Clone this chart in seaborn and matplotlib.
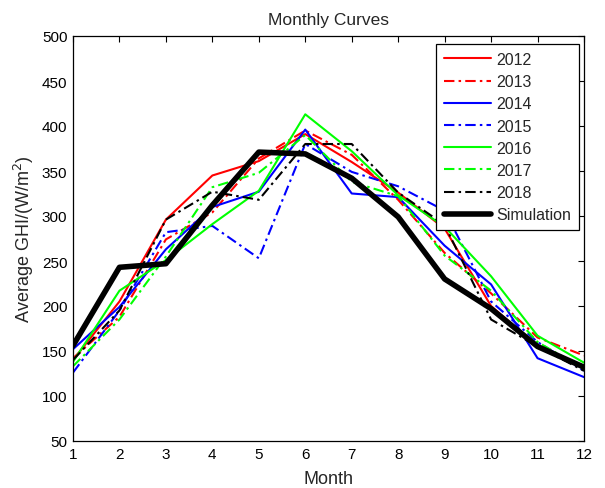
import matplotlib
matplotlib.use("Agg")
import matplotlib.pyplot as plt
import seaborn as sns
import pandas as pd

months = list(range(1, 13))

ghi_2012 = [140, 205, 296, 345, 361, 391, 360, 326, 286, 200, 155, 132]
ghi_2013 = [142, 188, 274, 304, 364, 395, 368, 318, 259, 214, 165, 145]
ghi_2014 = [152, 199, 263, 310, 327, 396, 325, 321, 267, 224, 142, 121]
ghi_2015 = [126, 195, 282, 289, 253, 380, 349, 333, 306, 205, 160, 128]
ghi_2016 = [138, 217, 251, 291, 328, 413, 372, 323, 288, 233, 167, 137]
ghi_2017 = [133, 185, 255, 332, 348, 390, 338, 322, 256, 217, 160, 130]
ghi_2018 = [140, 195, 296, 327, 318, 380, 380, 326, 290, 185, 155, 128]
ghi_sim = [156, 243, 247, 312, 371, 369, 342, 299, 230, 197, 155, 132]

labels = ["2012", "2013", "2014", "2015", "2016", "2017", "2018", "Simulation"]
series = [ghi_2012, ghi_2013, ghi_2014, ghi_2015, ghi_2016, ghi_2017, ghi_2018, ghi_sim]
colors = ["#ff0000", "#ff0000", "#0000ff", "#0000ff", "#00ff00", "#00ff00", "#000000", "#000000"]
dashdot = (0, (5, 2, 1.2, 2))
styles = ["-", dashdot, "-", dashdot, "-", dashdot, dashdot, "-"]
widths = [1.5, 1.5, 1.5, 1.5, 1.5, 1.5, 1.5, 4.0]

sns.set_style("white")
plt.rcParams["font.family"] = ["Liberation Sans", "DejaVu Sans"]

fig = plt.figure(figsize=(6.05, 4.89), dpi=100)
ax = fig.add_axes([73 / 605, 47 / 489, 511 / 605, 405 / 489])

for lab, vals, c, ls, lw in zip(labels, series, colors, styles, widths):
    df = pd.DataFrame({"Month": months, "GHI": vals})
    sns.lineplot(data=df, x="Month", y="GHI", ax=ax, color=c, linestyle=ls,
                 linewidth=lw, label=lab)

ax.set_xlim(1, 12)
ax.set_ylim(50, 500)
ax.set_xticks(months)
ax.set_yticks(range(50, 501, 50))
ax.tick_params(direction="in", length=4, width=0.8, labelsize=11, colors="black",
               top=True, right=True, pad=4)
for sp in ax.spines.values():
    sp.set_visible(True)
    sp.set_color("black")
    sp.set_linewidth(0.9)

ax.set_title("Monthly Curves", fontsize=12.5, pad=8.5)
ax.set_xlabel("Month", fontsize=13, labelpad=7)
ax.set_ylabel("Average GHI/(W/m$^2$)", fontsize=13, labelpad=4)

leg = ax.legend(loc="upper right", bbox_to_anchor=(0.990, 0.980), fontsize=11.5,
                frameon=True, fancybox=False, framealpha=1, edgecolor="black",
                handlelength=2.95, handletextpad=0.3, labelspacing=0.45,
                borderpad=0.5, borderaxespad=0)
leg.get_frame().set_linewidth(0.9)

fig.savefig("out.png", dpi=100, facecolor="white")
